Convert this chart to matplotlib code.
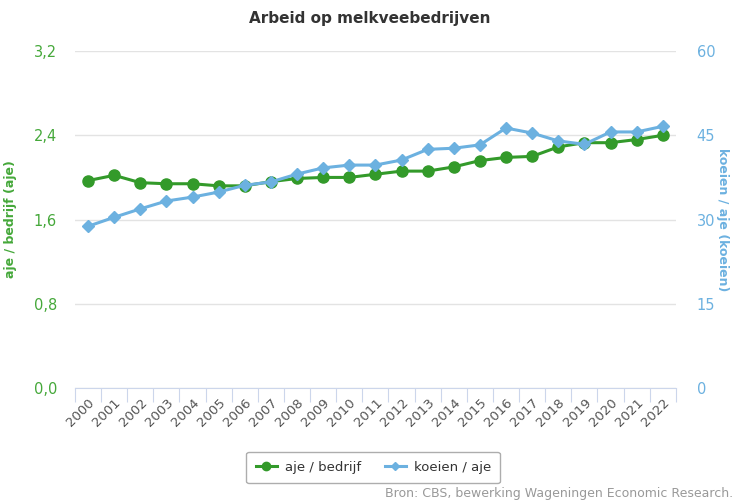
import matplotlib
matplotlib.use("Agg")
import matplotlib.pyplot as plt
from matplotlib.lines import Line2D

years = [str(y) for y in range(2000, 2023)]
aje_per_bedrijf = [1.97, 2.02, 1.95, 1.94, 1.94, 1.92, 1.92, 1.96, 1.99, 2.00, 2.00, 2.03,
                   2.06, 2.06, 2.10, 2.16, 2.19, 2.20, 2.29, 2.33, 2.33, 2.36, 2.40]
koeien_per_aje = [28.8, 30.4, 31.9, 33.3, 34.0, 34.9, 36.1, 36.7, 38.1, 39.2, 39.7, 39.7,
                  40.6, 42.5, 42.7, 43.3, 46.3, 45.4, 44.0, 43.4, 45.6, 45.6, 46.6]

left_ticks = [0.0, 0.8, 1.6, 2.4, 3.2]
right_ticks = [0, 15, 30, 45, 60]

green = "#339a2a"
green_txt = "#45a83a"
blue = "#6cb1e0"
blue_txt = "#6cb1e0"

plt.rcParams["font.family"] = ["DejaVu Sans"]

fig = plt.figure(figsize=(7.39, 5.01), dpi=100)
ax = fig.add_axes([0.1015, 0.2256, 0.813, 0.6724])
ax2 = ax.twinx()

x = list(range(len(years)))
ax.plot(x, aje_per_bedrijf, color=green, lw=2.2, marker="o", ms=8, zorder=3)
ax2.plot(x, koeien_per_aje, color=blue, lw=2.2, marker="D", ms=6, zorder=3)

ax.set_xlim(-0.5, len(years) - 0.5)
ax.set_ylim(0, 3.2)
ax2.set_ylim(0, 60)
ax.set_yticks(left_ticks)
ax.set_yticklabels([f"{v:.1f}".replace(".", ",") for v in left_ticks])
ax2.set_yticks(right_ticks)
ax2.set_yticklabels([str(v) for v in right_ticks])

ax.grid(axis="y", color="#e3e3e3", lw=1)
ax.set_axisbelow(True)
for a in (ax, ax2):
    for s in a.spines.values():
        s.set_visible(False)
ax.spines["bottom"].set_visible(True)
ax.spines["bottom"].set_color("#ccd6eb")

# category boundaries carry the tick marks, labels sit on the categories
ax.set_xticks([i - 0.5 for i in range(len(years) + 1)], minor=False)
ax.set_xticklabels([""] * (len(years) + 1))
ax.tick_params(axis="x", length=10, color="#ccd6eb", direction="out")
ax.set_xticks(x, minor=True)
ax.set_xticklabels(years, minor=True, rotation=45, ha="right", rotation_mode="anchor",
                   fontsize=9.5, color="#555555")
ax.tick_params(axis="x", which="minor", length=0, pad=6)

ax.tick_params(axis="y", length=0, labelsize=10.5, labelcolor=green_txt, pad=13)
ax2.tick_params(axis="y", length=0, labelsize=10.5, labelcolor=blue_txt, pad=15)

ax.set_ylabel("aje / bedrijf (aje)", color=green_txt, fontsize=9, fontweight="bold", labelpad=12)
ax2.set_ylabel("koeien / aje (koeien)", color=blue_txt, fontsize=9, fontweight="bold",
               rotation=270, labelpad=10)

fig.text(0.5, 0.963, "Arbeid op melkveebedrijven", ha="center", va="center",
         fontsize=11, fontweight="bold", color="#333333")

handles = [Line2D([], [], color=green, lw=2.2, marker="o", ms=6),
           Line2D([], [], color=blue, lw=2.2, marker="D", ms=4.5)]
leg = fig.legend(handles, ["aje / bedrijf", "koeien / aje"], loc="center",
                 bbox_to_anchor=(0.505, 0.067), ncol=2, frameon=True, fontsize=9.5,
                 handlelength=1.6, handletextpad=0.6, columnspacing=1.8, borderpad=0.7,
                 fancybox=True)
leg.get_frame().set_edgecolor("#999999")
leg.get_frame().set_linewidth(1)
for t in leg.get_texts():
    t.set_color("#333333")

fig.text(0.992, 0.015, "Bron: CBS, bewerking Wageningen Economic Research.", ha="right",
         va="center", fontsize=9, color="#999999")

fig.savefig("out.png", dpi=100)
